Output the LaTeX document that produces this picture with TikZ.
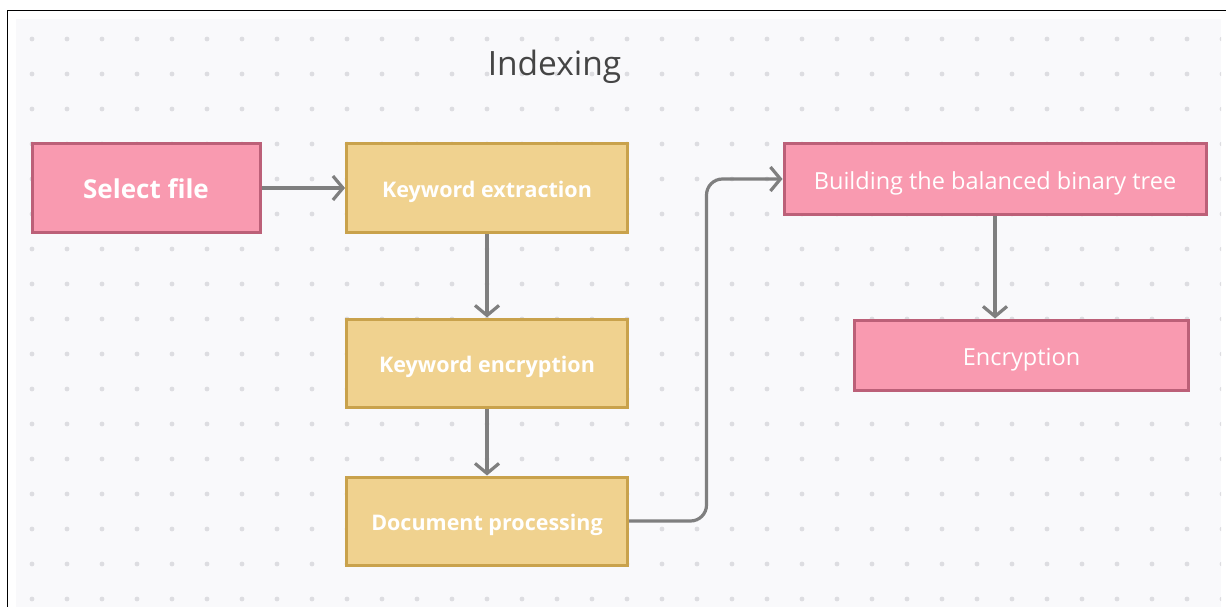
\documentclass[tikz,border=0pt]{standalone}
\usepackage{fontspec}
\setmainfont{Open Sans}
\usetikzlibrary{arrows.meta}
\definecolor{panel}{HTML}{F9F9FB}
\definecolor{dotc}{HTML}{DDDDE1}
\definecolor{pinkfill}{HTML}{F99AB0}
\definecolor{pinkline}{HTML}{BC6078}
\definecolor{sandfill}{HTML}{F0D28F}
\definecolor{sandline}{HTML}{C9A24C}
\definecolor{linkc}{HTML}{7F7F7F}
\definecolor{titlec}{HTML}{454545}
\tikzset{
  box/.style={draw, line width=3pt, inner sep=0pt, align=center, text=white, text depth=0pt},
  pinkbox/.style={box, fill=pinkfill, draw=pinkline},
  plaintext/.style={font=\fontsize{23.5}{27}\selectfont, text height=20.5pt},
  sandbox/.style={box, fill=sandfill, draw=sandline, font=\fontsize{21.5}{25}\selectfont\bfseries, text height=19.4pt},
  link/.style={draw=linkc, line width=3.2pt, -{Straight Barb[length=10pt,width=24pt,line width=3.2pt]}},
}
\begin{document}
\begin{tikzpicture}[x=1pt,y=-1pt]
\useasboundingbox (0,0) rectangle (1226,607);
% frame lines and dotted canvas
\fill[panel] (16,19) rectangle (1221,607);
\draw[black, line width=1.6pt] (7.5,607) -- (7.5,10.5) -- (1226,10.5);
\begin{scope}
  \clip (16,19) rectangle (1221,607);
  \foreach \i in {0,...,34} {
    \foreach \j in {0,...,16} {
      \fill[dotc] (32+35*\i, 39+35*\j) circle (2.4);
    }
  }
\end{scope}
% heading
\node[anchor=base, text=titlec, font=\fontsize{33.5}{38}\selectfont, inner sep=0pt] (title) at (554.5,75.5) {Indexing};
% process boxes
\node[pinkbox, minimum width=228pt, minimum height=88pt, font=\fontsize{26}{30}\selectfont\bfseries, text height=20.6pt] (select) at (146,188) {Select file};
\node[sandbox, minimum width=281pt, minimum height=88pt] (extract) at (487,188) {Keyword extraction};
\node[sandbox, minimum width=281pt, minimum height=88pt] (kenc) at (487,363) {Keyword encryption};
\node[sandbox, minimum width=281pt, minimum height=88pt] (docproc) at (487,521) {Document processing};
\node[pinkbox, plaintext, minimum width=422pt, minimum height=71pt] (tree) at (995,179) {Building the balanced binary tree};
\node[pinkbox, plaintext, minimum width=334pt, minimum height=70pt] (enc) at (1021.5,355) {Encryption};
% connectors
\draw[link] (select.east) -- (extract.west);
\draw[link] (extract.south) -- (kenc.north);
\draw[link] (kenc.south) -- (docproc.north);
\coordinate (bend) at (706.5,0);
\draw[link, rounded corners=16pt] (docproc.east) -- (bend |- docproc.east) -- (bend |- tree.west) -- (tree.west);
\draw[link] (tree.south) -- (tree.south |- enc.north);
\end{tikzpicture}
\end{document}
